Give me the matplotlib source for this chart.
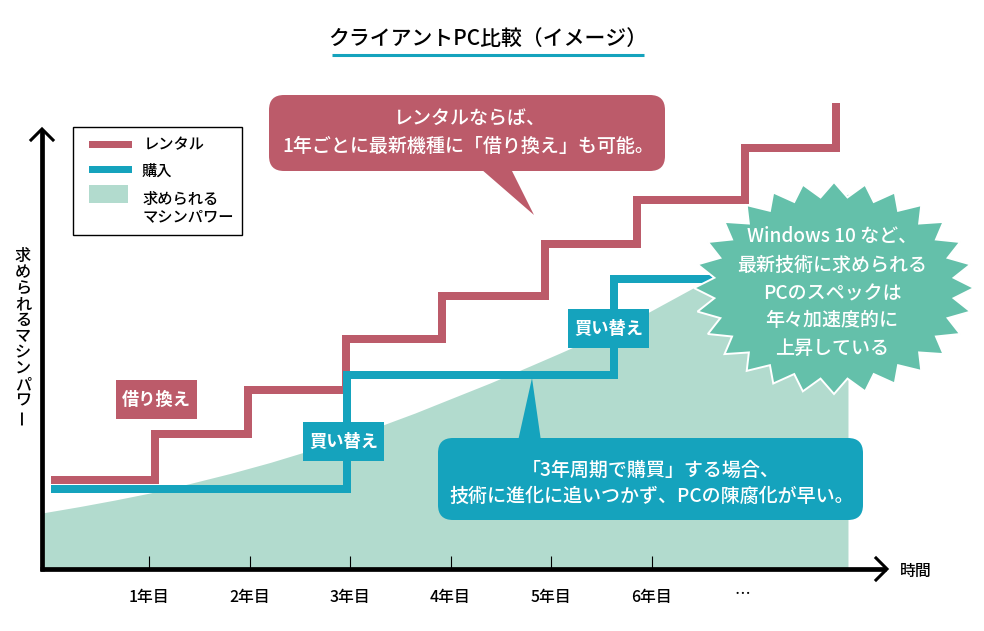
# -*- coding: utf-8 -*-
import numpy as np
import matplotlib
matplotlib.use("Agg")
import matplotlib.pyplot as plt
from matplotlib.patches import FancyBboxPatch, Polygon, Rectangle

plt.rcParams['font.family'] = ['Noto Sans CJK JP', 'DejaVu Sans']
plt.rcParams['font.weight'] = 500

ROSE = "#BC5B6A"
TEAL = "#15A3BD"
AREA = "#B2DBCE"
BURST = "#64C0AA"

# datos: anos en x, potencia (escala libre) en y
rental_x = [0.025, 1.06, 1.06, 1.985, 1.985, 2.96, 2.96, 3.915, 3.915, 4.94, 4.94, 5.855, 5.855, 6.93, 6.93, 7.835, 7.835]
rental_y = [17.8, 17.8, 27, 27, 35.8, 35.8, 46, 46, 54.6, 54.6, 65, 65, 73.8, 73.8, 84.2, 84.2, 93.2]
buy_x = [0.025, 2.97, 2.97, 5.63, 5.63, 6.7]
buy_y = [16, 16, 38.8, 38.8, 58, 58]
power_x = [-0.065, 0.313, 0.662, 1.01, 1.408, 1.806, 2.204, 2.532, 2.9, 3.299, 3.647, 3.945,
           4.393, 4.791, 5.09, 5.537, 5.975, 6.413, 7.179, 7.955]
power_y = [11.2, 12.5, 13.8, 15.2, 17.1, 19.1, 21.3, 23.3, 25.8, 28.6, 31.2, 33.6,
           37.2, 40.6, 43.2, 47.2, 51.4, 56.2, 65, 75]
tick_years = [1, 2, 3, 4, 5, 6]
tick_labels = ["1年目", "2年目", "3年目", "4年目", "5年目", "6年目"]

fig = plt.figure(figsize=(9.84, 6.31), dpi=100)

# ejes de datos, ocupan toda la figura
ax = fig.add_axes([0, 0, 1, 1])
ax.set_xlim(-48.5 / 100.5, (984 - 48.5) / 100.5)
ax.set_ylim((569 - 631) / 5, 569 / 5)
ax.axis("off")

ax.fill_between(power_x, 0, power_y, color=AREA, lw=0, zorder=1)
lw_step = 8 * 72 / 100
ax.plot(rental_x, rental_y, color=ROSE, lw=lw_step, solid_joinstyle="miter", solid_capstyle="butt", zorder=2)
ax.plot(buy_x, buy_y, color=TEAL, lw=lw_step, solid_joinstyle="miter", solid_capstyle="butt", zorder=3)
ax.vlines(tick_years, 0, 2.6, color="black", lw=0.8, zorder=4)
for yr, lab in zip(tick_years, tick_labels):
    ax.text(yr, -5.7, lab, ha="center", va="center", fontsize=11.4, color="black")
ax.text(6.9, -5.2, "…", ha="center", va="center", fontsize=11.4, color="black")

# capa de anotaciones en pixeles
px = fig.add_axes([0, 0, 1, 1], zorder=5)
px.set_xlim(0, 984)
px.set_ylim(631, 0)
px.axis("off")
px.patch.set_alpha(0)

# flechas de los ejes
px.plot([42, 42, 42], [571, 350, 130], color="black", lw=3.4, solid_capstyle="butt")
px.plot([40, 886], [569, 569], color="black", lw=3.4, solid_capstyle="butt")
px.plot([31, 42, 53], [140, 129, 140], color="black", lw=2.2, solid_joinstyle="miter")
px.plot([876, 887, 876], [558, 569, 580], color="black", lw=2.2, solid_joinstyle="miter")
px.text(915.5, 571, "時間", ha="center", va="center", fontsize=11.4)

# etiqueta vertical
for i, ch in enumerate("求められるマシンパワー"):
    px.text(23, 256.5 + i * 16, ch, ha="center", va="center", fontsize=11.6,
            rotation=90 if ch == "ー" else 0)

# titulo
px.text(488, 39, "クライアントPC比較（イメージ）", ha="center", va="center", fontsize=15)
px.plot([332, 644], [55, 55], color=TEAL, lw=2.2, solid_capstyle="butt")

# leyenda
px.add_patch(Rectangle((72.5, 126.5), 169, 108, fc="white", ec="black", lw=1))
px.add_patch(Rectangle((89, 141), 43, 7, fc=ROSE, lw=0))
px.add_patch(Rectangle((89, 166), 43, 7, fc=TEAL, lw=0))
px.add_patch(Rectangle((89, 185), 39, 18, fc=AREA, lw=0))
px.text(144, 144.5, "レンタル", va="center", fontsize=11)
px.text(142, 171, "購入", va="center", fontsize=11)
px.text(143, 199, "求められる", va="center", fontsize=11)
px.text(143, 217, "マシンパワー", va="center", fontsize=11)


def bubble(x0, y0, x1, y1, tail, color):
    px.add_patch(FancyBboxPatch((x0 + 15, y0 + 15), x1 - x0 - 30, y1 - y0 - 30,
                                boxstyle="round,pad=15,rounding_size=15", fc=color, lw=0))
    px.add_patch(Polygon(tail, closed=True, fc=color, lw=0))


bubble(269, 95, 665, 171, [(481, 169), (534, 215), (511, 169)], ROSE)
px.text(470, 118.5, "レンタルならば、", ha="center", va="center", color="white", fontsize=13.7)
px.text(468, 146, "1年ごとに最新機種に「借り換え」も可能。", ha="center", va="center", color="white", fontsize=13.7)

bubble(438, 438, 863, 520, [(518, 441), (532, 378), (541, 441)], TEAL)
px.text(651, 470, "「3年周期で購買」する場合、", ha="center", va="center", color="white", fontsize=13.7)
px.text(652, 496, "技術に進化に追いつかず、PCの陳腐化が早い。", ha="center", va="center", color="white", fontsize=13.7)

# cajas pequenas
for x0, y0, col, lab in [(116, 380, ROSE, "借り換え"), (303, 422, TEAL, "買い替え"), (568, 309, TEAL, "買い替え")]:
    px.add_patch(Rectangle((x0, y0), 81, 38.5, fc=col, lw=0))
    px.text(x0 + 40.5, y0 + 20, lab, ha="center", va="center", color="white", fontsize=12.4, fontweight="bold")

# estrella
n_spikes = 28
ang = np.arange(2 * n_spikes) * np.pi / n_spikes
rad = np.where(np.arange(2 * n_spikes) % 2 == 0, 1.0, 0.86)
star_x = 834 + 140 * rad * np.cos(ang)
star_y = 288 + 106 * rad * np.sin(ang)
px.add_patch(Polygon(np.column_stack([star_x, star_y]), closed=True, fc=BURST, ec="white", lw=1.4, joinstyle="miter"))
burst_lines = ["Windows 10 など、", "最新技術に求められる", "PCのスペックは", "年々加速度的に", "上昇している"]
for y, line in zip([236, 265, 293, 320, 348], burst_lines):
    px.text(832, y, line, ha="center", va="center", color="white", fontsize=13.7)

fig.savefig("out.png", dpi=100)
